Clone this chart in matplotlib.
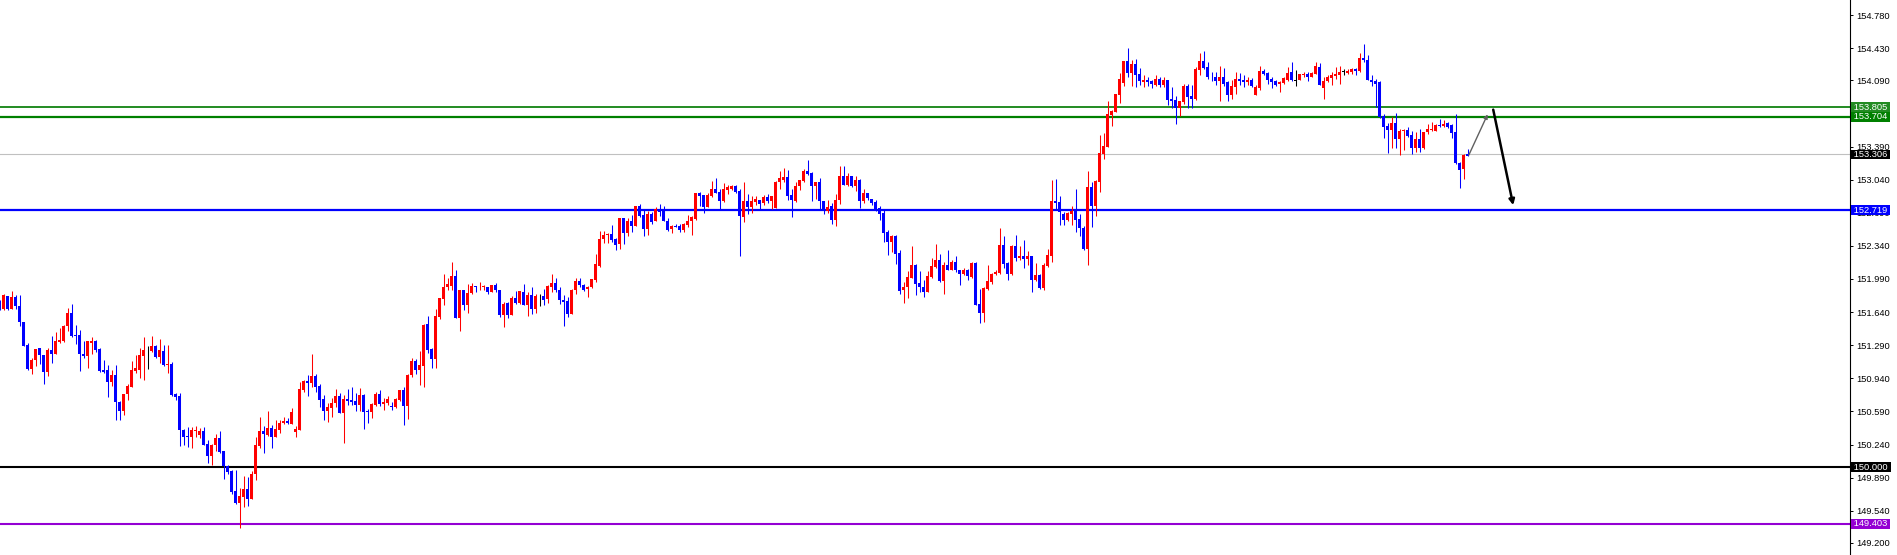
import numpy as np
import matplotlib
matplotlib.use("Agg")
import matplotlib.pyplot as plt
from matplotlib.transforms import blended_transform_factory

# bar index of the first value below (the half-cut candle on the left edge)
first_bar = -1

opens = [
    151.76,
    151.67, 151.81, 151.67, 151.80, 151.70, 151.53, 151.29, 151.04, 151.13, 151.26,
    151.19, 151.01, 151.24, 151.20, 151.32, 151.33, 151.49, 151.63, 151.40, 151.40,
    151.20, 151.18, 151.31, 151.33, 151.25, 151.03, 151.03, 150.90, 150.98, 150.69,
    150.59, 150.77, 150.85, 151.02, 151.03, 151.18, 151.24, 151.23, 151.28, 151.16,
    151.23, 151.08, 151.09, 150.77, 150.75, 150.39, 150.33, 150.32, 150.38, 150.34,
    150.38, 150.25, 150.12, 150.23, 150.31, 150.17, 150.01, 149.96, 149.75, 149.62,
    149.69, 149.77, 149.66, 149.93, 150.22, 150.38, 150.34, 150.41, 150.32, 150.39,
    150.47, 150.49, 150.46, 150.37, 150.39, 150.82, 150.91, 150.89, 150.96, 150.86,
    150.72, 150.59, 150.63, 150.68, 150.75, 150.57, 150.72, 150.71, 150.70, 150.66,
    150.76, 150.59, 150.58, 150.66, 150.77, 150.67, 150.68, 150.65, 150.64, 150.71,
    150.82, 150.65, 150.97, 151.12, 151.03, 151.07, 151.51, 151.25, 151.14, 151.59,
    151.78, 151.90, 151.92, 152.02, 151.58, 151.87, 151.71, 151.84, 151.92, 151.90,
    151.90, 151.90, 151.85, 151.93, 151.87, 151.61, 151.74, 151.61, 151.79, 151.74,
    151.85, 151.71, 151.82, 151.67, 151.81, 151.81, 151.78, 151.91, 151.95, 151.87,
    151.77, 151.76, 151.62, 151.87, 151.97, 151.93, 151.88, 151.90, 151.98, 152.13,
    152.41, 152.45, 152.47, 152.41, 152.36, 152.63, 152.48, 152.60, 152.55, 152.76,
    152.67, 152.52, 152.68, 152.60, 152.73, 152.72, 152.60, 152.52, 152.55, 152.55,
    152.51, 152.56, 152.60, 152.62, 152.90, 152.88, 152.75, 152.87, 152.94, 152.91,
    152.81, 152.93, 152.94, 152.97, 152.92, 152.65, 152.81, 152.75, 152.80, 152.83,
    152.79, 152.86, 152.81, 152.74, 153.02, 153.04, 153.07, 152.88, 152.81, 152.97,
    153.03, 153.13, 153.11, 152.97, 153.01, 152.81, 152.71, 152.76, 152.61, 152.82,
    153.08, 152.98, 153.08, 152.97, 153.04, 152.81, 152.90, 152.84, 152.80, 152.74,
    152.69, 152.49, 152.38, 152.44, 152.26, 151.87, 151.90, 152.00, 152.14, 151.95,
    151.91, 151.85, 152.01, 152.12, 152.19, 151.97, 152.14, 152.08, 152.17, 152.09,
    152.04, 152.09, 152.01, 152.16, 151.73, 151.63, 151.88, 151.96, 152.04, 152.05,
    152.35, 152.16, 152.04, 152.34, 152.21, 152.23, 152.20, 152.23, 151.98, 152.03,
    151.89, 152.13, 152.23, 152.81, 152.80, 152.68, 152.61, 152.68, 152.71, 152.62,
    152.53, 152.31, 152.96, 152.76, 153.02, 153.31, 153.39, 153.72, 153.76, 153.94,
    154.06, 154.29, 154.17, 154.26, 154.16, 154.07, 154.09, 154.08, 154.04, 154.10,
    154.04, 154.09, 153.89, 153.88, 153.80, 153.86, 154.03, 153.92, 153.89, 154.20,
    154.29, 154.23, 154.13, 154.12, 154.08, 154.12, 154.07, 153.93, 154.02, 154.10,
    154.09, 154.07, 154.09, 153.94, 154.01, 154.19, 154.17, 154.10, 154.08, 154.05,
    154.06, 154.09, 154.18, 154.09, 154.09, 154.15, 154.16, 154.13, 154.16, 154.23,
    154.01, 154.08, 154.11, 154.14, 154.15, 154.18, 154.17, 154.18, 154.21, 154.19,
    154.33, 154.31, 154.09, 154.08, 154.07, 153.71, 153.61, 153.57, 153.64, 153.47,
    153.55, 153.56, 153.51, 153.37, 153.47, 153.37, 153.54, 153.57, 153.55, 153.62,
    153.61, 153.64, 153.62, 153.54, 153.22, 153.15, 153.31,
]
highs = [
    151.77,
    151.83, 151.81, 151.86, 151.82, 151.82, 151.53, 151.31, 151.15, 151.25, 151.26,
    151.19, 151.26, 151.39, 151.43, 151.47, 151.50, 151.68, 151.73, 151.50, 151.45,
    151.33, 151.33, 151.38, 151.34, 151.26, 151.13, 151.08, 151.03, 151.08, 150.70,
    150.77, 150.88, 151.12, 151.19, 151.26, 151.38, 151.28, 151.39, 151.29, 151.36,
    151.29, 151.29, 151.11, 150.78, 150.78, 150.40, 150.43, 150.43, 150.44, 150.41,
    150.43, 150.29, 150.25, 150.35, 150.38, 150.17, 150.02, 149.97, 149.97, 149.78,
    149.91, 149.90, 149.96, 150.32, 150.53, 150.44, 150.59, 150.45, 150.50, 150.50,
    150.53, 150.52, 150.63, 150.44, 150.90, 150.92, 150.98, 151.20, 150.99, 150.88,
    150.76, 150.68, 150.73, 150.83, 150.78, 150.76, 150.83, 150.85, 150.78, 150.84,
    150.77, 150.62, 150.68, 150.79, 150.82, 150.73, 150.75, 150.69, 150.73, 150.82,
    150.85, 150.99, 151.15, 151.14, 151.23, 151.51, 151.60, 151.26, 151.67, 151.79,
    152.04, 152.00, 152.17, 152.08, 151.87, 151.87, 151.94, 151.95, 151.92, 151.96,
    151.93, 151.90, 151.93, 151.95, 151.87, 151.75, 151.75, 151.81, 151.86, 151.86,
    151.94, 151.85, 151.91, 151.83, 151.83, 151.88, 151.93, 152.04, 152.00, 151.91,
    151.82, 151.80, 151.88, 152.00, 152.00, 151.94, 151.92, 151.99, 152.25, 152.50,
    152.50, 152.48, 152.56, 152.42, 152.63, 152.63, 152.63, 152.67, 152.76, 152.78,
    152.72, 152.71, 152.70, 152.75, 152.78, 152.76, 152.63, 152.56, 152.57, 152.57,
    152.58, 152.67, 152.66, 152.90, 152.91, 152.88, 152.90, 153.03, 153.06, 152.94,
    153.00, 152.98, 152.98, 152.98, 152.94, 153.01, 152.89, 152.87, 152.87, 152.83,
    152.88, 152.89, 152.87, 153.03, 153.13, 153.16, 153.14, 152.94, 153.01, 153.04,
    153.15, 153.25, 153.12, 153.01, 153.06, 152.81, 152.83, 152.79, 152.89, 153.18,
    153.18, 153.11, 153.08, 153.08, 153.05, 152.94, 152.90, 152.84, 152.82, 152.76,
    152.72, 152.51, 152.46, 152.46, 152.30, 151.96, 152.07, 152.34, 152.15, 152.07,
    151.98, 152.07, 152.21, 152.36, 152.25, 152.17, 152.30, 152.19, 152.23, 152.09,
    152.11, 152.10, 152.17, 152.17, 151.88, 151.90, 152.14, 152.05, 152.08, 152.53,
    152.44, 152.17, 152.35, 152.46, 152.34, 152.40, 152.29, 152.23, 152.16, 152.04,
    152.16, 152.31, 153.04, 153.05, 152.87, 152.70, 152.70, 152.76, 152.94, 152.68,
    152.55, 153.13, 153.02, 153.04, 153.51, 153.53, 153.87, 153.78, 153.95, 154.17,
    154.29, 154.43, 154.31, 154.32, 154.22, 154.15, 154.13, 154.09, 154.15, 154.12,
    154.12, 154.09, 154.02, 153.92, 153.87, 154.05, 154.05, 154.04, 154.23, 154.38,
    154.40, 154.28, 154.18, 154.18, 154.24, 154.22, 154.08, 154.09, 154.18, 154.17,
    154.15, 154.12, 154.11, 154.04, 154.24, 154.21, 154.18, 154.12, 154.09, 154.08,
    154.12, 154.23, 154.28, 154.20, 154.16, 154.18, 154.18, 154.18, 154.28, 154.27,
    154.13, 154.15, 154.18, 154.23, 154.24, 154.21, 154.21, 154.22, 154.22, 154.38,
    154.47, 154.36, 154.15, 154.10, 154.08, 153.73, 153.64, 153.70, 153.74, 153.58,
    153.58, 153.60, 153.55, 153.54, 153.58, 153.54, 153.63, 153.65, 153.63, 153.68,
    153.67, 153.65, 153.63, 153.73, 153.23, 153.31, 153.36,
]
lows = [
    151.66,
    151.66, 151.66, 151.67, 151.67, 151.49, 151.28, 151.03, 150.99, 151.07, 151.09,
    150.88, 150.96, 151.10, 151.20, 151.31, 151.32, 151.44, 151.38, 151.30, 151.02,
    151.15, 151.05, 151.20, 151.22, 151.01, 151.00, 150.74, 150.86, 150.50, 150.50,
    150.55, 150.71, 150.85, 151.00, 150.94, 150.92, 151.04, 151.22, 151.15, 151.10,
    151.07, 151.00, 150.75, 150.71, 150.22, 150.23, 150.21, 150.20, 150.32, 150.31,
    150.23, 150.04, 150.02, 150.17, 150.15, 149.88, 149.93, 149.72, 149.61, 149.36,
    149.58, 149.59, 149.66, 149.86, 150.20, 150.15, 150.33, 150.20, 150.32, 150.36,
    150.46, 150.46, 150.46, 150.32, 150.39, 150.80, 150.75, 150.85, 150.80, 150.64,
    150.50, 150.48, 150.53, 150.64, 150.57, 150.26, 150.66, 150.66, 150.59, 150.59,
    150.40, 150.47, 150.52, 150.65, 150.65, 150.61, 150.66, 150.61, 150.63, 150.70,
    150.45, 150.51, 150.95, 150.99, 150.87, 150.85, 151.21, 151.05, 151.05, 151.57,
    151.72, 151.87, 151.87, 151.58, 151.44, 151.66, 151.63, 151.83, 151.85, 151.87,
    151.87, 151.83, 151.85, 151.85, 151.59, 151.48, 151.58, 151.61, 151.73, 151.73,
    151.71, 151.60, 151.62, 151.63, 151.70, 151.71, 151.74, 151.85, 151.85, 151.73,
    151.49, 151.59, 151.62, 151.83, 151.90, 151.86, 151.80, 151.89, 151.96, 152.12,
    152.37, 152.37, 152.38, 152.30, 152.31, 152.36, 152.44, 152.49, 152.55, 152.64,
    152.44, 152.46, 152.57, 152.60, 152.66, 152.60, 152.50, 152.48, 152.54, 152.49,
    152.49, 152.54, 152.46, 152.61, 152.76, 152.69, 152.75, 152.86, 152.90, 152.73,
    152.80, 152.89, 152.93, 152.90, 152.23, 152.59, 152.68, 152.69, 152.77, 152.73,
    152.77, 152.79, 152.73, 152.74, 152.94, 153.01, 152.82, 152.64, 152.80, 152.93,
    153.02, 153.09, 152.81, 152.84, 152.73, 152.68, 152.69, 152.57, 152.55, 152.78,
    152.98, 152.97, 152.96, 152.92, 152.74, 152.79, 152.82, 152.77, 152.71, 152.61,
    152.38, 152.24, 152.28, 152.15, 151.83, 151.74, 151.79, 152.00, 151.82, 151.85,
    151.80, 151.85, 152.00, 152.11, 151.96, 151.83, 152.08, 152.08, 152.06, 151.93,
    152.03, 151.98, 152.00, 151.71, 151.52, 151.53, 151.87, 151.94, 152.03, 152.04,
    152.11, 151.98, 152.03, 152.18, 152.19, 152.11, 152.14, 151.85, 151.97, 151.88,
    151.87, 152.12, 152.17, 152.73, 152.56, 152.56, 152.60, 152.56, 152.49, 152.44,
    152.30, 152.14, 152.54, 152.66, 152.91, 153.26, 153.38, 153.61, 153.75, 153.85,
    154.03, 154.13, 154.03, 154.02, 154.04, 154.02, 154.03, 154.01, 154.03, 154.02,
    154.02, 153.83, 153.80, 153.63, 153.71, 153.84, 153.80, 153.80, 153.88, 154.15,
    154.21, 154.10, 154.08, 154.04, 153.87, 154.03, 153.87, 153.89, 153.95, 154.04,
    154.02, 154.04, 154.02, 153.94, 153.99, 154.15, 154.05, 154.01, 154.03, 153.97,
    154.05, 154.08, 154.08, 154.03, 154.09, 154.12, 154.08, 154.12, 154.16, 154.04,
    153.89, 154.07, 154.04, 154.10, 154.05, 154.15, 154.16, 154.16, 154.15, 154.18,
    154.28, 154.09, 154.03, 153.81, 153.69, 153.48, 153.32, 153.37, 153.37, 153.30,
    153.35, 153.49, 153.31, 153.33, 153.33, 153.36, 153.52, 153.55, 153.55, 153.60,
    153.60, 153.59, 153.48, 153.21, 152.95, 153.05, 153.29,
]
closes = [
    151.67,
    151.82, 151.67, 151.80, 151.70, 151.53, 151.28, 151.04, 151.13, 151.25, 151.19,
    151.01, 151.24, 151.20, 151.33, 151.34, 151.49, 151.63, 151.39, 151.39, 151.20,
    151.18, 151.33, 151.33, 151.24, 151.02, 151.01, 150.90, 150.97, 150.69, 150.59,
    150.77, 150.86, 151.03, 151.05, 151.19, 151.24, 151.24, 151.28, 151.16, 151.24,
    151.08, 151.09, 150.76, 150.74, 150.39, 150.32, 150.32, 150.39, 150.39, 150.38,
    150.24, 150.12, 150.24, 150.31, 150.16, 150.01, 149.95, 149.74, 149.62, 149.70,
    149.77, 149.66, 149.93, 150.23, 150.38, 150.35, 150.41, 150.32, 150.40, 150.47,
    150.49, 150.47, 150.58, 150.40, 150.83, 150.91, 150.89, 150.96, 150.85, 150.71,
    150.59, 150.64, 150.68, 150.75, 150.57, 150.72, 150.70, 150.69, 150.66, 150.76,
    150.58, 150.58, 150.67, 150.77, 150.67, 150.69, 150.72, 150.64, 150.72, 150.82,
    150.65, 150.98, 151.12, 151.03, 151.08, 151.50, 151.24, 151.14, 151.60, 151.79,
    151.90, 151.94, 152.02, 151.58, 151.87, 151.71, 151.84, 151.92, 151.90, 151.91,
    151.92, 151.85, 151.93, 151.87, 151.61, 151.73, 151.61, 151.79, 151.74, 151.86,
    151.71, 151.82, 151.67, 151.81, 151.81, 151.77, 151.92, 151.95, 151.87, 151.77,
    151.75, 151.62, 151.87, 151.97, 151.93, 151.87, 151.90, 151.99, 152.15, 152.41,
    152.45, 152.47, 152.40, 152.35, 152.63, 152.48, 152.60, 152.55, 152.76, 152.66,
    152.52, 152.68, 152.59, 152.73, 152.70, 152.60, 152.51, 152.55, 152.54, 152.51,
    152.57, 152.60, 152.64, 152.90, 152.87, 152.75, 152.88, 152.94, 152.90, 152.81,
    152.94, 152.96, 152.97, 152.91, 152.66, 152.81, 152.75, 152.81, 152.84, 152.78,
    152.86, 152.81, 152.87, 153.02, 153.06, 153.07, 152.87, 152.82, 152.97, 153.04,
    153.13, 153.10, 152.97, 153.01, 152.81, 152.71, 152.75, 152.61, 152.83, 153.08,
    152.98, 153.08, 152.97, 153.04, 152.81, 152.90, 152.85, 152.79, 152.73, 152.68,
    152.48, 152.38, 152.44, 152.25, 151.86, 151.90, 152.01, 152.14, 151.94, 151.90,
    151.85, 152.02, 152.13, 152.19, 151.97, 152.14, 152.08, 152.17, 152.08, 152.04,
    152.09, 152.02, 152.16, 151.72, 151.63, 151.89, 151.97, 152.04, 152.06, 152.35,
    152.15, 152.04, 152.34, 152.21, 152.23, 152.20, 152.23, 151.98, 152.03, 151.89,
    152.14, 152.24, 152.81, 152.79, 152.70, 152.61, 152.69, 152.71, 152.61, 152.53,
    152.31, 152.96, 152.76, 153.03, 153.32, 153.40, 153.73, 153.77, 153.95, 154.10,
    154.29, 154.17, 154.26, 154.15, 154.08, 154.09, 154.07, 154.05, 154.10, 154.04,
    154.09, 153.88, 153.87, 153.80, 153.87, 154.03, 153.91, 153.89, 154.21, 154.29,
    154.22, 154.12, 154.12, 154.08, 154.12, 154.05, 153.93, 154.03, 154.10, 154.08,
    154.07, 154.09, 154.03, 154.02, 154.19, 154.16, 154.09, 154.07, 154.04, 154.07,
    154.11, 154.17, 154.09, 154.09, 154.16, 154.16, 154.13, 154.17, 154.24, 154.04,
    154.08, 154.13, 154.15, 154.16, 154.18, 154.18, 154.19, 154.21, 154.19, 154.33,
    154.31, 154.09, 154.07, 154.05, 153.70, 153.60, 153.57, 153.64, 153.47, 153.55,
    153.57, 153.50, 153.37, 153.47, 153.37, 153.54, 153.58, 153.58, 153.62, 153.61,
    153.63, 153.60, 153.53, 153.22, 153.14, 153.30, 153.29,
]

# horizontal levels and their price tags on the right scale
levels = [153.805, 153.704, 153.306, 152.719, 150.000, 149.403]
level_colors = ["#228b22", "#008000", "#c0c0c0", "#0000ff", "#000000", "#9400d3"]
tag_colors = ["#228b22", "#008000", "#000000", "#0000ff", "#000000", "#9400d3"]
level_widths = [1.4, 1.6, 0.8, 1.6, 1.5, 1.5]

price_ticks = [154.780, 154.430, 154.090, 153.740, 153.390, 153.040, 152.690, 152.340,
               151.990, 151.640, 151.290, 150.940, 150.590, 150.240, 149.890, 149.540,
               149.200]
# 153.740 sits fully under the two green tags, so its label is not shown
hidden_ticks = [153.740]

# hand drawn forecast: small move up then arrow down to the blue level
up_x, up_y = [366.3, 371.0], [153.30, 153.73]
down_x, down_y = [372.4, 377.4], [153.78, 152.77]

o = np.array(opens)
h = np.array(highs)
l = np.array(lows)
c = np.array(closes)
x = np.arange(len(o)) + first_bar
colors = np.where(c > o, "#ff0000", np.where(c < o, "#0000ff", "#000000"))

fig = plt.figure(figsize=(18.97, 5.55), dpi=100)
ax = fig.add_axes([0, 0, 1850 / 1897, 1])

# levels first, candles on top
for lv, lc, lw in zip(levels, level_colors, level_widths):
    ax.axhline(lv, color=lc, linewidth=lw, zorder=1)

ax.vlines(x, l, h, colors=colors, linewidth=0.75, zorder=2)
body = np.abs(c - o)
bottom = np.where(body < 0.008, np.minimum(o, c) - 0.004, np.minimum(o, c))
ax.bar(x, np.maximum(body, 0.008), bottom=bottom, width=0.72, color=colors,
       linewidth=0, zorder=3)

ax.annotate("", xy=(up_x[1], up_y[1]), xytext=(up_x[0], up_y[0]),
            arrowprops=dict(arrowstyle="-|>", color="#606060", lw=1.0,
                            mutation_scale=6, shrinkA=0, shrinkB=0), zorder=4)
ax.annotate("", xy=(down_x[1], down_y[1]), xytext=(down_x[0], down_y[0]),
            arrowprops=dict(arrowstyle="-|>", color="#000000", lw=1.8,
                            mutation_scale=8, shrinkA=0, shrinkB=0), zorder=4)

ax.set_xlim(-0.925, 461.6)
ax.set_ylim(149.072, 154.939)

for s in ["left", "top", "bottom"]:
    ax.spines[s].set_visible(False)
ax.spines["right"].set_linewidth(0.8)
ax.set_xticks([])
ax.yaxis.tick_right()
ax.set_yticks(price_ticks)
ax.set_yticklabels(["" if t in hidden_ticks else f"{t:.3f}" for t in price_ticks],
                   family="Liberation Sans")
ax.tick_params(axis="y", direction="out", length=2.2, width=0.7, pad=2.6,
               labelsize=6.7, colors="black")

trans = blended_transform_factory(ax.transAxes, ax.transData)
for lv, tc in zip(levels, tag_colors):
    ax.text(1.0006, lv, f" {lv:.3f} ", transform=trans, ha="left", va="center",
            fontsize=6.7, family="Liberation Sans", color="white", clip_on=False,
            zorder=6, bbox=dict(boxstyle="square,pad=0.05", fc=tc, ec="none"))

fig.savefig("out.png", dpi=100, facecolor="white")
